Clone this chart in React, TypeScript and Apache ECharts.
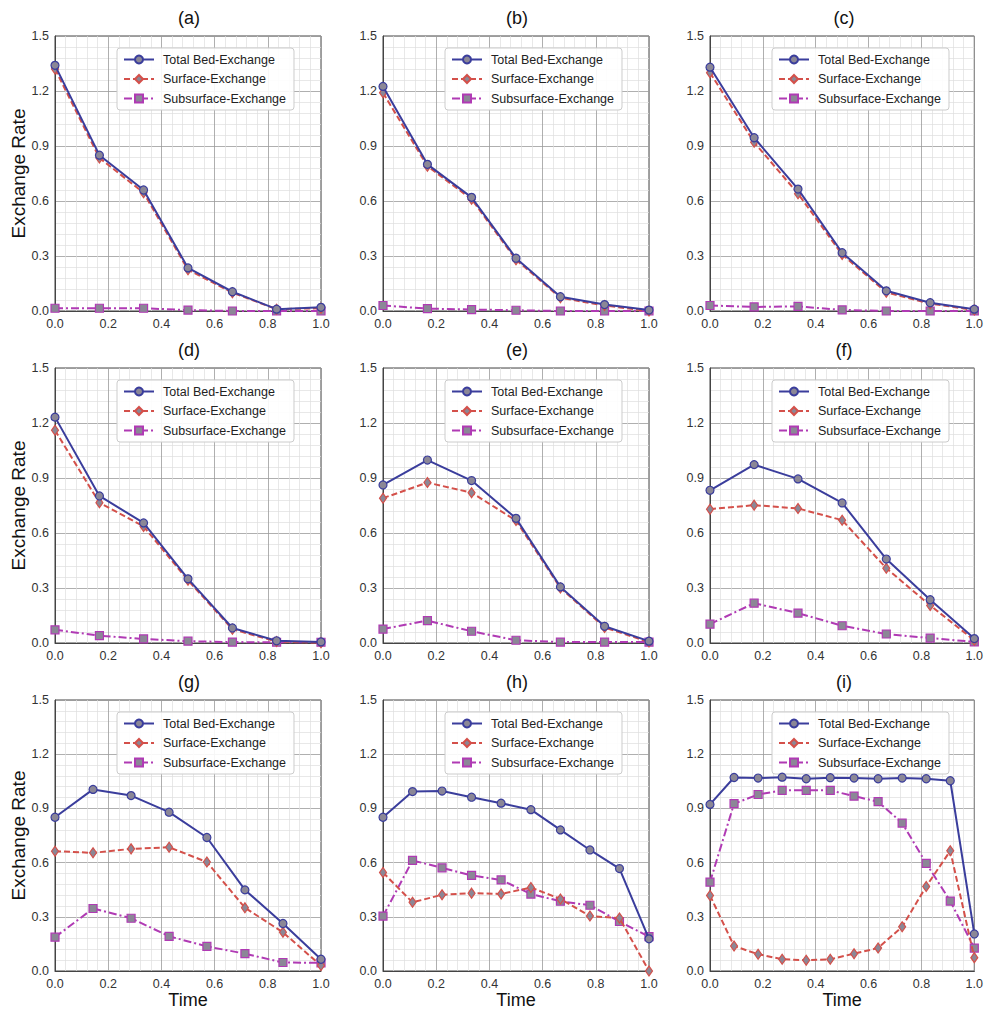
import React, { useEffect, useRef } from "react";
import * as echarts from "echarts";

const panelTitles = ["(a)", "(b)", "(c)", "(d)", "(e)", "(f)", "(g)", "(h)", "(i)"];
const seriesNames = ["Total Bed-Exchange", "Surface-Exchange", "Subsurface-Exchange"];

const time7 = [0, 0.167, 0.333, 0.5, 0.667, 0.833, 1.0];
const time8 = [0, 0.143, 0.286, 0.429, 0.571, 0.714, 0.857, 1.0];
const time10 = [0, 0.111, 0.222, 0.333, 0.444, 0.556, 0.667, 0.778, 0.889, 1.0];
const time12 = [0, 0.091, 0.182, 0.273, 0.364, 0.455, 0.545, 0.636, 0.727, 0.818, 0.909, 1.0];

const totalA = [1.34, 0.85, 0.66, 0.235, 0.105, 0.01, 0.02];
const surfaceA = [1.32, 0.835, 0.645, 0.225, 0.1, 0.01, 0.015];
const subA = [0.015, 0.015, 0.015, 0.005, 0.0, 0.0, 0.0];

const totalB = [1.225, 0.8, 0.62, 0.288, 0.078, 0.035, 0.005];
const surfaceB = [1.19, 0.79, 0.61, 0.28, 0.072, 0.03, 0.0];
const subB = [0.03, 0.013, 0.008, 0.004, 0.0, 0.0, 0.0];

const totalC = [1.33, 0.945, 0.665, 0.318, 0.11, 0.045, 0.01];
const surfaceC = [1.3, 0.92, 0.64, 0.308, 0.102, 0.04, 0.006];
const subC = [0.03, 0.022, 0.025, 0.006, 0.0, 0.0, 0.0];

const totalD = [1.232, 0.802, 0.655, 0.35, 0.082, 0.012, 0.006];
const surfaceD = [1.16, 0.765, 0.636, 0.342, 0.075, 0.008, 0.002];
const subD = [0.072, 0.04, 0.022, 0.01, 0.005, 0.004, 0.004];

const totalE = [0.862, 0.998, 0.886, 0.68, 0.306, 0.091, 0.01];
const surfaceE = [0.79, 0.875, 0.82, 0.668, 0.3, 0.085, 0.005];
const subE = [0.076, 0.122, 0.064, 0.015, 0.005, 0.005, 0.005];

const totalF = [0.833, 0.973, 0.895, 0.764, 0.458, 0.236, 0.024];
const surfaceF = [0.73, 0.752, 0.734, 0.67, 0.408, 0.205, 0.015];
const subF = [0.103, 0.217, 0.163, 0.094, 0.049, 0.027, 0.006];

const totalG = [0.851, 1.005, 0.971, 0.879, 0.739, 0.449, 0.263, 0.065];
const surfaceG = [0.663, 0.654, 0.676, 0.685, 0.603, 0.35, 0.214, 0.03];
const subG = [0.187, 0.346, 0.292, 0.192, 0.136, 0.096, 0.047, 0.045];

const totalH = [0.851, 0.993, 0.996, 0.962, 0.929, 0.893, 0.781, 0.67, 0.567, 0.178];
const surfaceH = [0.545, 0.38, 0.422, 0.431, 0.426, 0.462, 0.399, 0.304, 0.293, 0.0];
const subH = [0.304, 0.612, 0.571, 0.529, 0.504, 0.426, 0.386, 0.364, 0.274, 0.19];

const totalI = [0.922, 1.071, 1.068, 1.073, 1.064, 1.07, 1.068, 1.064, 1.068, 1.064, 1.053, 0.205];
const surfaceI = [0.418, 0.138, 0.093, 0.065, 0.06, 0.065, 0.096, 0.127, 0.245, 0.468, 0.665, 0.074];
const subI = [0.492, 0.926, 0.977, 1.0, 1.0, 1.0, 0.968, 0.937, 0.819, 0.596, 0.387, 0.127];

const panelTimes = [time7, time7, time7, time7, time7, time7, time8, time10, time12];
const panelTotal = [totalA, totalB, totalC, totalD, totalE, totalF, totalG, totalH, totalI];
const panelSurface = [surfaceA, surfaceB, surfaceC, surfaceD, surfaceE, surfaceF, surfaceG, surfaceH, surfaceI];
const panelSub = [subA, subB, subC, subD, subE, subF, subG, subH, subI];

const xTicks = [0, 0.2, 0.4, 0.6, 0.8, 1.0];
const yTicks = [0, 0.3, 0.6, 0.9, 1.2, 1.5];

const FONT = "'Liberation Sans', Arial, Helvetica, sans-serif";
const COLORS = ["#3a3d9c", "#d4504a", "#b03ab4"];
const SYMBOLS = ["circle", "diamond", "rect"];
const LINE_TYPES: any[] = ["solid", [6, 3], [8, 3, 2, 3]];
const MARKER_FILL = "#8b8796";

const colLefts = [55, 383, 710];
const rowTops = [36, 368, 700];
const PW = 266;
const PH = 275;

export default function App() {
  const ref = useRef<HTMLDivElement>(null);
  useEffect(() => {
    if (!ref.current) return;
    const chart = echarts.init(ref.current, null, { renderer: "svg" });
    const grids: any[] = [];
    const xAxes: any[] = [];
    const yAxes: any[] = [];
    const titles: any[] = [];
    const legends: any[] = [];
    const series: any[] = [];
    for (let p = 0; p < 9; p++) {
      const r = Math.floor(p / 3);
      const c = p % 3;
      const left = colLefts[c];
      const top = rowTops[r];
      grids.push({
        left,
        top,
        width: PW,
        height: PH,
        show: true,
        borderColor: "#444",
        borderWidth: 1,
        backgroundColor: "transparent",
        containLabel: false,
      });
      titles.push({
        text: panelTitles[p],
        left: left + PW / 2 - 4,
        top: top - 32,
        textAlign: "center",
        textStyle: { fontFamily: FONT, fontSize: 18, fontWeight: "normal", color: "#111" },
      });
      xAxes.push({
        type: "value",
        gridIndex: p,
        min: 0,
        max: 1,
        interval: 0.2,
        name: r === 2 ? "Time" : "",
        nameLocation: "middle",
        nameGap: 20,
        nameTextStyle: { fontFamily: FONT, fontSize: 18, color: "#111" },
        axisLine: { show: true, lineStyle: { color: "#444", width: 1 } },
        axisTick: { show: false },
        axisLabel: {
          fontFamily: FONT,
          fontSize: 12.5,
          color: "#333",
          margin: 6,
          formatter: (v: number) => (xTicks.some((t) => Math.abs(t - v) < 1e-6) ? v.toFixed(1) : ""),
        },
        splitLine: { show: true, lineStyle: { color: "#9a9a9a", width: 0.8 } },
        minorTick: { show: false, splitNumber: 5 },
        minorSplitLine: { show: true, lineStyle: { color: "#dedede", width: 0.7 } },
      });
      yAxes.push({
        type: "value",
        gridIndex: p,
        min: 0,
        max: 1.5,
        interval: 0.3,
        name: c === 0 ? "Exchange Rate" : "",
        nameLocation: "middle",
        nameGap: 25,
        nameTextStyle: { fontFamily: FONT, fontSize: 19, color: "#111" },
        axisLine: { show: true, lineStyle: { color: "#444", width: 1 } },
        axisTick: { show: false },
        axisLabel: {
          fontFamily: FONT,
          fontSize: 12.5,
          color: "#333",
          margin: 6,
          formatter: (v: number) => (yTicks.some((t) => Math.abs(t - v) < 1e-6) ? v.toFixed(1) : ""),
        },
        splitLine: { show: true, lineStyle: { color: "#9a9a9a", width: 0.8 } },
        minorTick: { show: false, splitNumber: 5 },
        minorSplitLine: { show: true, lineStyle: { color: "#dedede", width: 0.7 } },
      });
      legends.push({
        orient: "vertical",
        left: left + 62,
        top: top + 12,
        data: seriesNames,
        itemWidth: 30,
        itemHeight: 10,
        itemGap: 6.5,
        padding: [5, 8, 5, 6],
        backgroundColor: "rgba(255,255,255,0.9)",
        borderColor: "#cccccc",
        borderWidth: 1,
        borderRadius: 3,
        selectedMode: false,
        textStyle: { fontFamily: FONT, fontSize: 12.5, color: "#222", padding: [0, 0, 0, 4] },
      });
      const times = panelTimes[p];
      const sets = [panelTotal[p], panelSurface[p], panelSub[p]];
      for (let s = 0; s < 3; s++) {
        series.push({
          type: "line",
          name: seriesNames[s],
          xAxisIndex: p,
          yAxisIndex: p,
          data: times.map((t, i) => [t, sets[s][i]]),
          symbol: SYMBOLS[s],
          symbolSize: s === 1 ? [7, 10] : 8,
          showSymbol: true,
          z: s === 0 ? 5 : s === 1 ? 4 : 3,
          itemStyle: { color: MARKER_FILL, borderColor: COLORS[s], borderWidth: 1.2 },
          lineStyle: { color: COLORS[s], width: 2, type: LINE_TYPES[s] },
          emphasis: { disabled: true },
        });
      }
    }
    chart.setOption({
      animation: false,
      backgroundColor: "#ffffff",
      title: titles,
      grid: grids,
      xAxis: xAxes,
      yAxis: yAxes,
      legend: legends,
      series,
    });
    return () => chart.dispose();
  }, []);
  return (
    <div
      ref={ref}
      style={{ position: "fixed", left: 0, top: 0, width: 986, height: 1010, background: "#fff" }}
    />
  );
}
